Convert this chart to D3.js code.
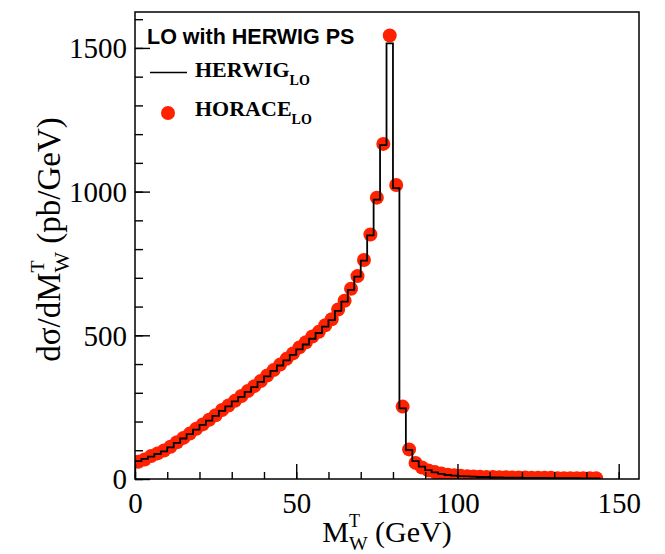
<!DOCTYPE html>
<html>
<head>
<meta charset="utf-8">
<script src="https://cdn.jsdelivr.net/npm/d3@7/dist/d3.min.js"></script>
<style>
  body { margin: 0; background: #fff; }
  text { white-space: pre; }
</style>
</head>
<body>
<div id="chart"></div>
<script>
// bin centres (GeV), bins are 2 GeV wide
const massBins = [1, 3, 5, 7, 9, 11, 13, 15, 17, 19, 21, 23, 25, 27, 29, 31, 33, 35,
  37, 39, 41, 43, 45, 47, 49, 51, 53, 55, 57, 59, 61, 63, 65, 67, 69, 71,
  73, 75, 77, 79, 81, 83, 85, 87, 89, 91, 93, 95, 97, 99, 101, 103, 105, 107,
  109, 111, 113, 115, 117, 119, 121, 123, 125, 127, 129, 131, 133, 135, 137, 139, 141, 143];

const herwigLO = [62, 70, 78, 87, 96, 110, 126, 141, 156, 172, 188, 203, 220, 237, 253, 270, 286, 303,
  320, 338, 357, 376, 395, 413, 432, 451, 468, 488, 508, 530, 553, 585, 617, 658, 704, 760,
  848, 972, 1162, 1516, 1012, 246, 101, 62, 43, 31, 23, 18, 14, 12, 10, 9, 8, 7,
  7, 6, 6, 5, 5, 5, 4, 4, 4, 4, 3, 3, 3, 3, 3, 2, 2, 2];

const horaceLO = [60, 68, 80, 89, 99, 112, 128, 143, 158, 175, 190, 206, 222, 240, 256, 272, 289, 306,
  323, 341, 360, 379, 398, 418, 437, 458, 476, 496, 512, 535, 556, 590, 620, 662, 706, 762,
  851, 979, 1166, 1543, 1023, 252, 103, 56, 40, 30, 24, 19, 15, 13, 11, 10, 9, 8,
  7, 7, 6, 6, 5, 5, 5, 4, 4, 4, 4, 3, 3, 3, 3, 3, 3, 3];

const xMajorTicks = [0, 50, 100, 150];
const xMinorTicks = [0, 10, 20, 30, 40, 50, 60, 70, 80, 90, 100, 110, 120, 130, 140, 150];
const yMajorTicks = [0, 500, 1000, 1500];
const yMinorTicks = [0, 100, 200, 300, 400, 500, 600, 700, 800, 900, 1000, 1100, 1200, 1300, 1400, 1500, 1600];

const binHalf = 1;
const red = '#ff2200';
const serif = '"Liberation Serif", "Times New Roman", serif';
const sans = '"Liberation Sans", Arial, sans-serif';

const frame = { left: 135, top: 12, right: 639, bottom: 479 };

const x = d3.scaleLinear().domain([0, 156.3]).range([frame.left, frame.right]);
const y = d3.scaleLinear().domain([0, 1625]).range([frame.bottom, frame.top]);

const svg = d3.select('#chart').append('svg')
  .attr('width', 665)
  .attr('height', 554);

svg.append('clipPath').attr('id', 'clip')
  .append('rect')
  .attr('x', frame.left).attr('y', frame.top)
  .attr('width', frame.right - frame.left).attr('height', frame.bottom - frame.top);

const plot = svg.append('g').attr('clip-path', 'url(#clip)');

// HORACE points
plot.selectAll('circle.horace')
  .data(massBins)
  .enter()
  .append('circle')
  .attr('class', 'horace')
  .attr('cx', d => x(d))
  .attr('cy', (d, i) => y(horaceLO[i]))
  .attr('r', 7)
  .attr('fill', red);

// HERWIG histogram
const pts = [[x(massBins[0] - binHalf), y(0)]];
massBins.forEach((m, i) => {
  pts.push([x(m - binHalf), y(herwigLO[i])]);
  pts.push([x(m + binHalf), y(herwigLO[i])]);
});
pts.push([x(massBins[massBins.length - 1] + binHalf), y(0)]);

plot.append('path')
  .attr('d', d3.line()(pts))
  .attr('fill', 'none')
  .attr('stroke', '#000')
  .attr('stroke-width', 1.8);

// axes (ticks drawn inside the frame)
function styleAxis(g) {
  g.select('.domain').remove();
  g.selectAll('line').attr('stroke', '#000').attr('stroke-width', 1.4);
}

svg.append('g')
  .attr('transform', `translate(0,${frame.bottom})`)
  .call(d3.axisBottom(x).tickValues(xMinorTicks).tickSize(-7).tickFormat(''))
  .call(styleAxis);

const xAxis = svg.append('g')
  .attr('transform', `translate(0,${frame.bottom})`)
  .call(d3.axisBottom(x).tickValues(xMajorTicks).tickSize(-15).tickFormat(d3.format('d')))
  .call(styleAxis);
xAxis.selectAll('text')
  .attr('dy', null)
  .attr('y', 34)
  .attr('fill', '#000')
  .style('font-family', serif)
  .style('font-size', '29px');

svg.append('g')
  .attr('transform', `translate(${frame.left},0)`)
  .call(d3.axisLeft(y).tickValues(yMinorTicks).tickSize(-8).tickFormat(''))
  .call(styleAxis);

const yAxis = svg.append('g')
  .attr('transform', `translate(${frame.left},0)`)
  .call(d3.axisLeft(y).tickValues(yMajorTicks).tickSize(-15).tickFormat(d3.format('d')))
  .call(styleAxis);
yAxis.selectAll('text')
  .attr('x', -8)
  .attr('dy', '0.34em')
  .attr('fill', '#000')
  .style('font-family', serif)
  .style('font-size', '29px');

// frame
svg.append('rect')
  .attr('x', frame.left).attr('y', frame.top)
  .attr('width', frame.right - frame.left).attr('height', frame.bottom - frame.top)
  .attr('fill', 'none')
  .attr('stroke', '#000')
  .attr('stroke-width', 1.5);

// text with a stacked sub/superscript, centred on the group origin
function richText(g, parts, size, family, weight) {
  const inner = g.append('g');
  let cx = 0;
  parts.forEach(p => {
    if (p.t !== undefined) {
      const t = inner.append('text').attr('x', cx)
        .style('font-size', size + 'px').style('font-family', family).text(p.t);
      cx += t.node().getComputedTextLength();
    } else {
      let w = 0;
      if (p.sub) {
        const a = inner.append('text').attr('x', cx).attr('y', size * 0.28)
          .style('font-size', (size * 0.66) + 'px').style('font-family', family).text(p.sub);
        w = Math.max(w, a.node().getComputedTextLength());
      }
      if (p.sup) {
        const b = inner.append('text').attr('x', cx).attr('y', -size * 0.5)
          .style('font-size', (size * 0.6) + 'px').style('font-family', family).text(p.sup);
        w = Math.max(w, b.node().getComputedTextLength());
      }
      cx += w;
    }
  });
  inner.selectAll('text')
    .style('font-weight', weight || 'normal')
    .attr('fill', '#000');
  return { inner, width: cx };
}

// x axis title
const xTitle = svg.append('g')
  .attr('transform', `translate(${(frame.left + frame.right) / 2},542)`);
const xt = richText(xTitle, [{ t: 'M' }, { sub: 'W', sup: 'T' }, { t: ' (GeV)' }], 30, serif);
xt.inner.attr('transform', `translate(${-xt.width / 2},0)`);

// y axis title
const yTitle = svg.append('g')
  .attr('transform', `translate(60,${(frame.top + frame.bottom) / 2 - 6}) rotate(-90)`);
const yt = richText(yTitle, [{ t: 'dσ/dM' }, { sub: 'W', sup: 'T' }, { t: ' (pb/GeV)' }], 33, serif);
yt.inner.attr('transform', `translate(${-yt.width / 2},0)`);

// legend
const legend = svg.append('g');
legend.append('text')
  .attr('x', 147).attr('y', 44)
  .style('font-family', sans)
  .style('font-weight', 'bold')
  .style('font-size', '21.5px')
  .attr('fill', '#000')
  .text('LO with HERWIG PS');

legend.append('line')
  .attr('x1', 150).attr('x2', 187)
  .attr('y1', 72.5).attr('y2', 72.5)
  .attr('stroke', '#000').attr('stroke-width', 1.5);

legend.append('circle')
  .attr('cx', 168).attr('cy', 113).attr('r', 7)
  .attr('fill', red);

const legendEntries = [
  { name: 'HERWIG', sub: 'LO', y: 77 },
  { name: 'HORACE', sub: 'LO', y: 116 }
];
legendEntries.forEach(e => {
  const t = legend.append('text')
    .attr('x', 195).attr('y', e.y)
    .style('font-family', serif)
    .style('font-weight', 'bold')
    .style('font-size', '22px')
    .attr('fill', '#000');
  t.append('tspan').text(e.name);
  t.append('tspan').attr('dy', 8).style('font-size', '14px').text(e.sub);
});
</script>
</body>
</html>
